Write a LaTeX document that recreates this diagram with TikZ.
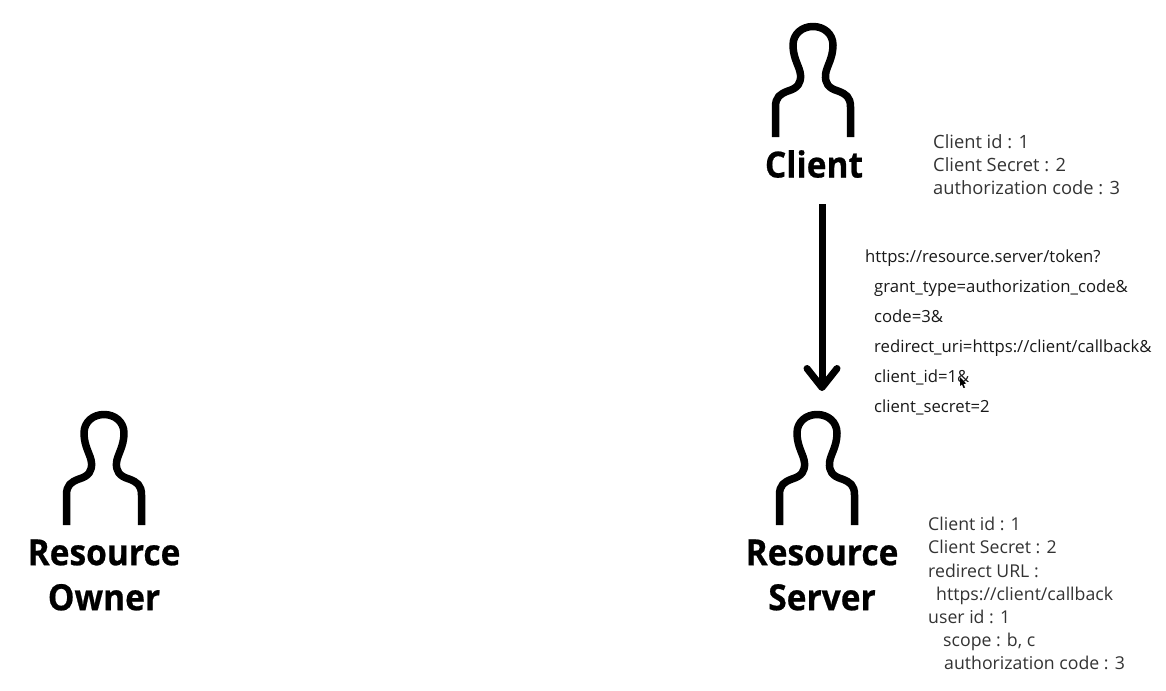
\documentclass[tikz,border=0pt]{standalone}
\usepackage{fontspec}
\setmainfont{Open Sans}
\newfontfamily\labelfont{Open Sans}[FakeStretch=0.93,FakeBold=0.6]
\usetikzlibrary{arrows.meta}
\tikzset{
  x=1pt,y=-1pt,
  persona/.pic={
    \draw[line width=7.5pt,line join=round,black]
      (-37.5,0) -- (-37.5,-30)
      .. controls (-37.5,-40) and (-33,-43) .. (-25,-46)
      .. controls (-15,-49) and (-12,-54) .. (-12.5,-62)
      .. controls (-13,-70) and (-20,-78) .. (-20,-92)
      .. controls (-20,-103) and (-11,-110.5) .. (0,-110.5)
      .. controls (11,-110.5) and (20,-103) .. (20,-92)
      .. controls (20,-78) and (13,-70) .. (12.5,-62)
      .. controls (12,-54) and (15,-49) .. (25,-46)
      .. controls (33,-43) and (37.5,-40) .. (37.5,-30)
      -- (37.5,0);
  },
  actorlabel/.style={font=\labelfont\bfseries\fontsize{36}{45}\selectfont,align=center,inner sep=0pt,text=black},
  infotext/.style={font=\fontsize{18.3}{23.2}\selectfont,align=left,anchor=north west,inner sep=0pt,text=black!80},
  serverinfostyle/.style={infotext,font=\fontsize{17.7}{23.2}\selectfont},
  urltext/.style={font=\fontsize{16.7}{30}\selectfont,align=left,anchor=north west,inner sep=0pt,text=black!90},
  flow/.style={line width=7pt,-{Straight Barb[length=19pt,width=30pt,line width=7pt,round]}},
}
\begin{document}
\begin{tikzpicture}
\useasboundingbox (0,0) rectangle (1166,690);
\pic at (813,137) {persona};
\pic at (817,525) {persona};
\pic at (104,525) {persona};
\node[actorlabel] (client) at (814,164) {Client};
\node[actorlabel] (server) at (822,575) {Resource\\Server};
\node[actorlabel] (owner) at (104,575) {Resource\\Owner};
\node[infotext] (clientinfo) at (933,134) {Client id : 1\\Client Secret : 2\\authorization code : 3};
\node[urltext] (request) at (865,250) {https://resource.server/token?\\
\hspace*{9pt}grant\_type=authorization\_code\&\\
\hspace*{9pt}code=3\&\\
\hspace*{9pt}redirect\_uri=https://client/callback\&\\
\hspace*{9pt}client\_id=1\&\\
\hspace*{9pt}client\_secret=2};
\node[serverinfostyle] (serverinfo) at (928,517) {Client id : 1\\Client Secret : 2\\redirect URL :\\
\hspace*{8pt}https://client/callback\\user id : 1\\
\hspace*{15pt}scope : b, c\\
\hspace*{16pt}authorization code : 3};
\coordinate (flowstart) at (822,204);
\coordinate (flowend) at (822,391);
\draw[flow] (flowstart) -- (flowend);
\fill[black] (960,377) -- (960,386) -- (962,384.5) -- (963.5,388) -- (965,387.5) -- (963.5,384) -- (966,383.5) -- cycle;
\end{tikzpicture}
\end{document}
